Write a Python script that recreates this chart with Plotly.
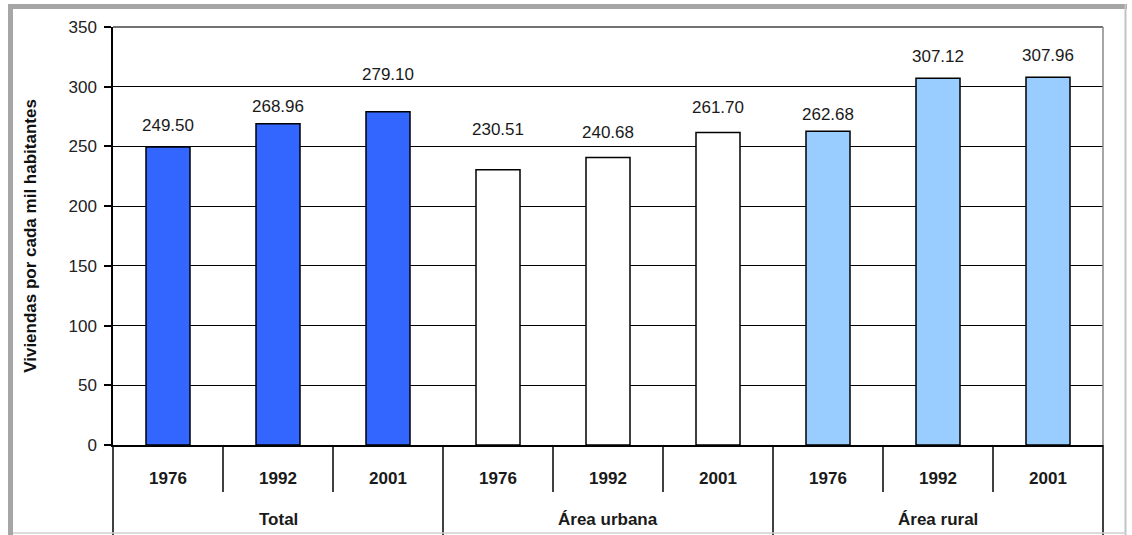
import plotly.graph_objects as go

# ---- data ----
groups = ["Total", "Total", "Total",
          "Área urbana", "Área urbana", "Área urbana",
          "Área rural", "Área rural", "Área rural"]
years = ["1976", "1992", "2001", "1976", "1992", "2001", "1976", "1992", "2001"]
values = [249.50, 268.96, 279.10, 230.51, 240.68, 261.70, 262.68, 307.12, 307.96]
value_labels = ["249.50", "268.96", "279.10", "230.51", "240.68", "261.70", "262.68", "307.12", "307.96"]
y_ticks = [0, 50, 100, 150, 200, 250, 300, 350]

# ---- styles ----
bar_colors = ["#3366FF"] * 3 + ["#FFFFFF"] * 3 + ["#99CCFF"] * 3
label_shift_px = [22, 17, 37, 40, 25, 25, 17, 22, 22]   # manual label offsets above bars

W, H = 1132, 535
ML, MR, MT, MB = 113, 29, 27, 90
PW, PH = W - ML - MR, H - MT - MB
FONT = "Arial, Liberation Sans, sans-serif"


def px_x(px):
    return (px - ML) / PW


def px_y(py):
    return (H - MB - py) / PH


idx = list(range(len(values)))
n = len(values)

fig = go.Figure()
fig.add_trace(go.Bar(
    x=idx, y=values,
    marker=dict(color=bar_colors, line=dict(color="#000000", width=1.5)),
    width=0.4, customdata=[[g, yv] for g, yv in zip(groups, years)],
    hovertemplate="%{customdata[0]} %{customdata[1]}: %{y}<extra></extra>",
    showlegend=False,
))

annotations = []
for i, (v, t, s) in enumerate(zip(values, value_labels, label_shift_px)):
    annotations.append(dict(
        x=i, y=v, xref="x", yref="y", text=t, showarrow=False,
        yanchor="middle", yshift=s, bgcolor="#FFFFFF", borderpad=1,
        font=dict(family=FONT, size=17, color="#1a1a1a"),
    ))

# group labels (second row of the category axis)
group_names = []
for g in groups:
    if g not in group_names:
        group_names.append(g)
for g in group_names:
    members = [i for i in idx if groups[i] == g]
    annotations.append(dict(
        x=sum(members) / len(members), y=px_y(519), xref="x", yref="paper",
        text=g, showarrow=False, yanchor="middle",
        font=dict(family=FONT, size=17, color="#1a1a1a", weight="bold"),
    ))

shapes = []
# inner (year) separators
for k in range(1, n):
    if groups[k] == groups[k - 1]:
        shapes.append(dict(type="line", xref="paper", yref="paper",
                           x0=k / n, x1=k / n, y0=0, y1=px_y(492),
                           line=dict(color="#000000", width=1.5)))
# group separators, to the bottom
for k in range(0, n + 1):
    if k == 0 or k == n or groups[k] != groups[k - 1]:
        shapes.append(dict(type="line", xref="paper", yref="paper",
                           x0=k / n, x1=k / n, y0=0, y1=px_y(535),
                           line=dict(color="#000000", width=1.5)))
# plot area border (top, right)
shapes.append(dict(type="line", xref="paper", yref="paper", x0=0, x1=1, y0=1, y1=1,
                   line=dict(color="#444444", width=1.5)))
shapes.append(dict(type="line", xref="paper", yref="paper", x0=1, x1=1, y0=0, y1=1,
                   line=dict(color="#888888", width=1.5)))
# outer frame
shapes.append(dict(type="rect", xref="paper", yref="paper",
                   x0=px_x(8), x1=px_x(13), y0=px_y(535), y1=px_y(4),
                   fillcolor="#A6A6A6", line=dict(width=0), layer="above"))
shapes.append(dict(type="rect", xref="paper", yref="paper",
                   x0=px_x(8), x1=px_x(1127), y0=px_y(9), y1=px_y(4),
                   fillcolor="#A6A6A6", line=dict(width=0), layer="above"))
shapes.append(dict(type="line", xref="paper", yref="paper",
                   x0=px_x(1125.5), x1=px_x(1125.5), y0=px_y(535), y1=px_y(4),
                   line=dict(color="#C4C4C4", width=2)))
shapes.append(dict(type="line", xref="paper", yref="paper",
                   x0=px_x(13), x1=px_x(1126), y0=px_y(533), y1=px_y(533),
                   line=dict(color="#D0D0D0", width=1.5)))

fig.update_layout(
    width=W, height=H,
    margin=dict(l=ML, r=MR, t=MT, b=MB, autoexpand=False),
    paper_bgcolor="#FFFFFF", plot_bgcolor="#FFFFFF",
    annotations=annotations, shapes=shapes,
    font=dict(family=FONT, color="#1a1a1a"),
    xaxis=dict(
        range=[-0.5, n - 0.5], tickvals=idx, ticktext=years, ticks="",
        tickfont=dict(family=FONT, size=17, color="#1a1a1a", weight="bold"),
        ticklabelstandoff=17,
        showline=True, linecolor="#000000", linewidth=1.5,
        showgrid=False, zeroline=False, fixedrange=True,
    ),
    yaxis=dict(
        range=[0, 350], tickvals=y_ticks, ticktext=[str(v) for v in y_ticks],
        ticks="outside", ticklen=7, tickcolor="#000000", tickwidth=1.5,
        tickfont=dict(family=FONT, size=17, color="#222222"),
        ticklabelstandoff=4,
        showline=True, linecolor="#000000", linewidth=1.5,
        showgrid=True, gridcolor="#000000", gridwidth=1.2,
        zeroline=False, fixedrange=True,
        title=dict(text="Viviendas por cada mil habitantes", standoff=28,
                   font=dict(family=FONT, size=17, color="#111111", weight="bold")),
    ),
)

fig.write_html("out.html")
